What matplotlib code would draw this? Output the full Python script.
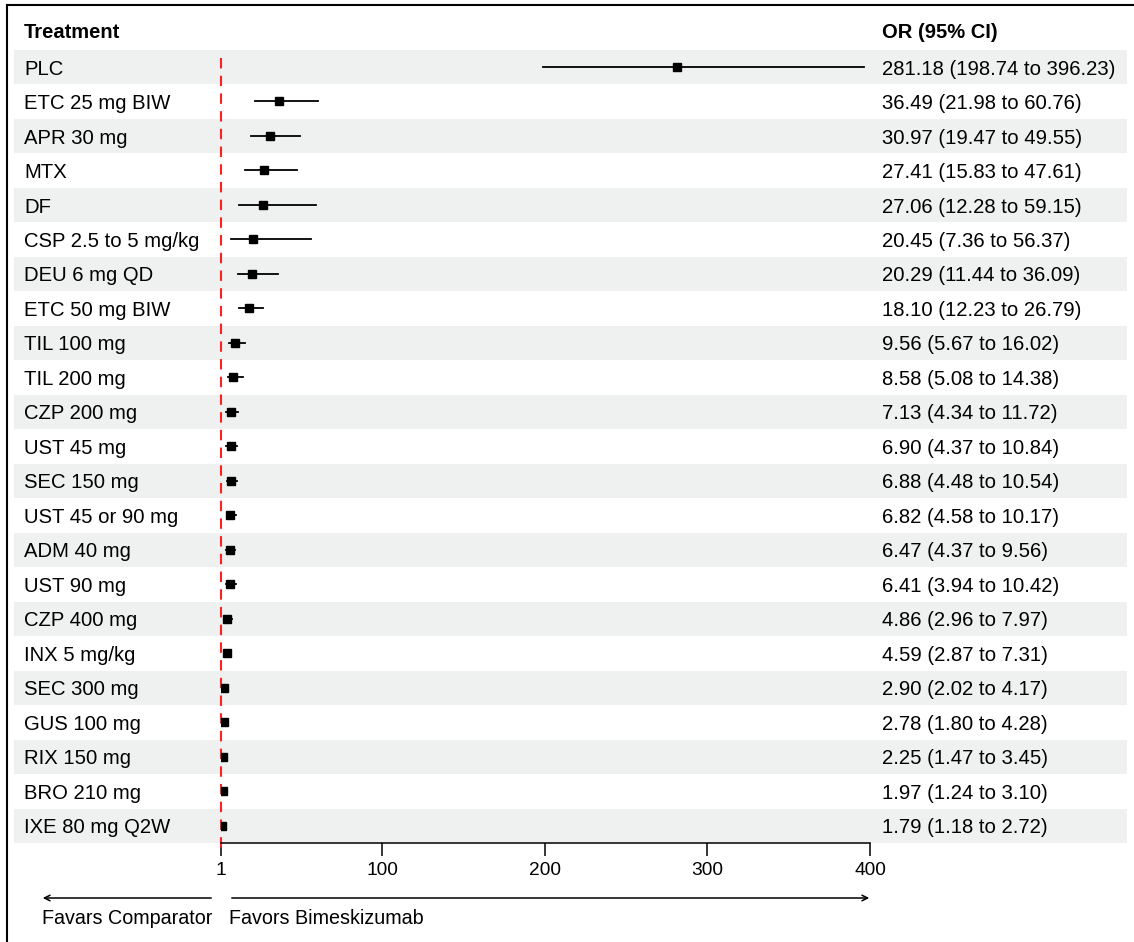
import matplotlib.pyplot as plt
import matplotlib.transforms as mtransforms
from matplotlib.patches import Rectangle
from matplotlib.lines import Line2D

plt.rcParams['font.family'] = ['Liberation Sans', 'DejaVu Sans']

treatments = ["PLC", "ETC 25 mg BIW", "APR 30 mg", "MTX", "DF", "CSP 2.5 to 5 mg/kg",
              "DEU 6 mg QD", "ETC 50 mg BIW", "TIL 100 mg", "TIL 200 mg", "CZP 200 mg",
              "UST 45 mg", "SEC 150 mg", "UST 45 or 90 mg", "ADM 40 mg", "UST 90 mg",
              "CZP 400 mg", "INX 5 mg/kg", "SEC 300 mg", "GUS 100 mg", "RIX 150 mg",
              "BRO 210 mg", "IXE 80 mg Q2W"]
or_est = [281.18, 36.49, 30.97, 27.41, 27.06, 20.45, 20.29, 18.10, 9.56, 8.58, 7.13,
          6.90, 6.88, 6.82, 6.47, 6.41, 4.86, 4.59, 2.90, 2.78, 2.25, 1.97, 1.79]
ci_low = [198.74, 21.98, 19.47, 15.83, 12.28, 7.36, 11.44, 12.23, 5.67, 5.08, 4.34,
          4.37, 4.48, 4.58, 4.37, 3.94, 2.96, 2.87, 2.02, 1.80, 1.47, 1.24, 1.18]
ci_high = [396.23, 60.76, 49.55, 47.61, 59.15, 56.37, 36.09, 26.79, 16.02, 14.38, 11.72,
           10.84, 10.54, 10.17, 9.56, 10.42, 7.97, 7.31, 4.17, 4.28, 3.45, 3.10, 2.72]
xticks = [1, 100, 200, 300, 400]

W, H = 1134, 942
fig = plt.figure(figsize=(W / 100, H / 100), dpi=100)

# axes: x from 1 to 400 at pixels 221..870, rows 67 + i*34.5
left, right = 221 / W, 870 / W
bottom = 1 - 843 / H
top = 1 - 49.75 / H
ax = fig.add_axes([left, bottom, right - left, top - bottom])
n = len(treatments)
ax.set_xlim(1, 400)
ax.set_ylim(n - 0.5, -0.5)

trans = mtransforms.blended_transform_factory(fig.transFigure, ax.transData)

# row stripes
for i in range(n):
    if i % 2 == 0:
        ax.add_patch(Rectangle((14 / W, i - 0.5), (1127 - 14) / W, 1.0, transform=trans,
                               facecolor='#eef1f0', edgecolor='none', clip_on=False, zorder=0))

# labels
dy = 0.06
ax.text(24 / W, -1, "Treatment", transform=trans, fontsize=14.5, fontweight='bold',
        va='center', ha='left')
ax.text(882 / W, -1, "OR (95% CI)", transform=trans, fontsize=14.5, fontweight='bold',
        va='center', ha='left')
for i, name in enumerate(treatments):
    ax.text(24 / W, i + dy, name, transform=trans, fontsize=14.6, va='center', ha='left')
    ax.text(882 / W, i + dy, f"{or_est[i]:.2f} ({ci_low[i]:.2f} to {ci_high[i]:.2f})",
            transform=trans, fontsize=14.6, va='center', ha='left')

# reference line
ax.plot([1, 1], [-0.25, n - 0.25], color='#ff2020', lw=1.5, ls=(0, (5, 3.5)), zorder=2,
        clip_on=False)

# CI lines and points
for i in range(n):
    ax.plot([ci_low[i], ci_high[i]], [i, i], color='black', lw=1.3, zorder=3)
    ax.plot(or_est[i], i, marker='s', color='black', markersize=5.2, zorder=4)

# axis
for s in ['top', 'right', 'left']:
    ax.spines[s].set_visible(False)
ax.spines['bottom'].set_bounds(1, 400)
ax.spines['bottom'].set_linewidth(1.1)
ax.set_yticks([])
ax.set_xticks(xticks)
ax.set_xticklabels([str(t) for t in xticks])
ax.tick_params(axis='x', length=9, width=1.1, labelsize=13.8, pad=4.5)
ax.patch.set_visible(False)

# direction arrows
ya = 1 - 898 / H
ax.annotate("", xy=(40 / W, ya), xytext=(214 / W, ya), xycoords='figure fraction',
            arrowprops=dict(arrowstyle='->', lw=1.1, color='black'))
ax.annotate("", xy=(872 / W, ya), xytext=(229 / W, ya), xycoords='figure fraction',
            arrowprops=dict(arrowstyle='->', lw=1.1, color='black'))
yt = 1 - 919 / H
fig.text(42 / W, yt, "Favars Comparator", fontsize=14.2, va='center', ha='left')
fig.text(229 / W, yt, "Favors Bimeskizumab", fontsize=14.2, va='center', ha='left')

# border on left and top
fig.add_artist(Line2D([7 / W, 7 / W], [0, 1 - 5 / H], color='black', lw=1.5,
                      transform=fig.transFigure))
fig.add_artist(Line2D([7 / W, 1], [1 - 5 / H, 1 - 5 / H], color='black', lw=1.5,
                      transform=fig.transFigure))

fig.savefig("out.png", dpi=100)
